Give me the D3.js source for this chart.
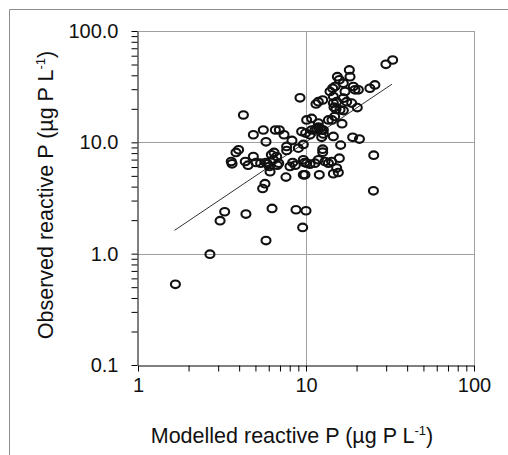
<!DOCTYPE html>
<html>
<head>
<meta charset="utf-8">
<script src="https://cdn.jsdelivr.net/npm/d3@7"></script>
<style>
  body { margin: 0; background: #fff; }
  svg { display: block; font-family: "Liberation Sans", Arial, sans-serif; }
</style>
</head>
<body>
<svg id="chart"></svg>
<script>
// modelled (x) vs observed (y) reactive P, µg P L-1
const modelled = [
  1.67, 2.68, 3.08, 3.28, 4.39, 5.78, 6.28, 8.72, 10.0, 9.55, 5.52, 5.70, 25.2, 25.3, 4.24, 9.21, 29.9, 32.8,
  3.59, 3.63, 3.83, 3.97, 4.35, 4.52, 4.86, 4.86, 5.04, 5.37, 5.57, 5.78, 5.78, 5.89, 6.05, 6.11, 6.22, 6.45,
  6.57, 6.94, 6.75, 6.88, 7.40, 7.67, 7.67, 7.60, 8.25, 8.03, 8.33, 8.64, 9.00, 9.64, 9.64, 9.82, 10.56, 9.95,
  9.42, 6.39, 6.69,
  10.09, 10.8, 10.56, 10.8, 11.3, 11.57, 11.84, 12.11, 12.4, 12.69, 11.84, 12.69, 12.4, 13.6, 14.28, 14.81,
  16.38, 14.55, 16.08, 18.96, 20.8, 12.57, 12.57, 9.64, 10.09, 11.3, 11.84, 12.98, 13.6, 14.2, 15.79, 15.22,
  14.55, 15.58, 12.0, 9.86,
  11.47, 11.84, 12.57, 13.9, 14.41, 14.55, 14.55, 15.22, 14.68, 15.09, 15.94, 16.68, 16.68, 17.07, 17.46, 18.7,
  20.2, 15.37, 15.79, 18.28, 18.11, 16.68, 19.13, 19.57, 20.5, 24.0, 25.7, 14.88
];
const observed = [
  0.53, 0.99, 1.98, 2.38, 2.27, 1.31, 2.55, 2.48, 2.43, 1.72, 3.85, 4.25, 3.67, 7.67, 17.6, 25.1, 50.2, 54.9,
  6.73, 6.41, 8.11, 8.57, 6.73, 6.24, 7.46, 11.7, 6.59, 6.50, 12.9, 10.1, 6.59, 6.41, 6.07, 5.44, 7.73, 8.11,
  12.9, 12.9, 6.24, 6.50, 11.7, 9.18, 8.45, 4.87, 10.4, 6.07, 6.59, 6.24, 8.87, 9.57, 5.11, 6.59, 6.37, 12.1,
  12.5, 6.97, 7.46,
  15.9, 16.4, 11.7, 12.9, 12.9, 13.4, 13.7, 13.4, 12.9, 12.9, 14.9, 11.9, 11.1, 15.9, 15.9, 17.06,
  14.7, 11.3, 9.44, 11.1, 10.7, 8.68, 8.16, 6.97, 6.50, 6.50, 6.97, 6.73, 6.50, 6.73, 7.21, 5.87,
  5.22, 5.36, 5.11, 5.11,
  22.1, 23.2, 24.0, 28.6, 30.6, 25.8, 22.5, 23.2, 20.7, 19.8, 19.6, 19.3, 24.9, 28.6, 23.2, 22.5,
  20.5, 38.9, 36.4, 38.9, 44.7, 33.9, 31.7, 29.6, 29.6, 30.6, 32.8, 31.7
];
const trendX = [1.65, 32.5];
const trendY = [1.62, 33.3];
const xTickLabels = ["1", "10", "100"];
const yTickLabels = ["0.1", "1.0", "10.0", "100.0"];

const width = 508, height = 455;
const plotLeft = 138, plotRight = 474, plotTop = 31, plotBottom = 365;

const svg = d3.select("#chart").attr("width", width).attr("height", height);

const x = d3.scaleLog().domain([1, 100]).range([plotLeft, plotRight]);
const y = d3.scaleLog().domain([0.1, 100]).range([plotBottom, plotTop]);

// outer frame (only top and left edges show)
svg.append("path")
  .attr("d", `M9.5,${height}V9.5H${width}`)
  .attr("fill", "none").attr("stroke", "#8c8c8c");

// grid + plot border
const grid = svg.append("g").attr("stroke", "#a0a0a0").attr("stroke-width", 1);
[10, 100].forEach(v => grid.append("line")
  .attr("x1", Math.round(x(v)) + 0.5).attr("x2", Math.round(x(v)) + 0.5)
  .attr("y1", plotTop).attr("y2", plotBottom));
[1, 10, 100].forEach(v => grid.append("line")
  .attr("x1", plotLeft).attr("x2", plotRight)
  .attr("y1", Math.round(y(v)) + 0.5).attr("y2", Math.round(y(v)) + 0.5));

// 1:1 trend line
const line = d3.line().x(d => x(d[0])).y(d => y(d[1]));
svg.append("path")
  .attr("d", line(d3.zip(trendX, trendY)))
  .attr("fill", "none").attr("stroke", "#333").attr("stroke-width", 1);

// points
svg.append("g").selectAll("ellipse")
  .data(d3.zip(modelled, observed))
  .join("ellipse")
  .attr("cx", d => x(d[0]))
  .attr("cy", d => y(d[1]))
  .attr("rx", 4.5).attr("ry", 3.8)
  .attr("fill", "none").attr("stroke", "#111").attr("stroke-width", 2.1);

// axes
const xAxis = svg.append("g")
  .attr("transform", `translate(0,${plotBottom + 0.5})`)
  .call(d3.axisBottom(x).tickValues(x.ticks()).tickSize(6).tickSizeOuter(0)
    .tickFormat(d => { const i = [1, 10, 100].indexOf(d); return i < 0 ? "" : xTickLabels[i]; }));
const yAxis = svg.append("g")
  .attr("transform", `translate(${plotLeft - 0.5},0)`)
  .call(d3.axisLeft(y).tickValues(y.ticks()).tickSize(6).tickSizeOuter(0)
    .tickFormat(d => { const i = [0.1, 1, 10, 100].findIndex(v => Math.abs(v - d) < 1e-9); return i < 0 ? "" : yTickLabels[i]; }));

[xAxis, yAxis].forEach(a => {
  a.selectAll(".domain").attr("stroke", "#000");
  a.selectAll(".tick line").attr("stroke", "#000");
  a.selectAll("text").attr("fill", "#111").style("font-size", "20px")
    .style("font-family", "'Liberation Sans', Arial, sans-serif");
});
xAxis.selectAll("text").attr("y", 12);
yAxis.selectAll("text").attr("x", -19);

// axis titles
const xt = svg.append("text")
  .attr("x", 292).attr("y", 443)
  .attr("text-anchor", "middle")
  .style("font-size", "21.5px").attr("fill", "#111");
xt.append("tspan").text("Modelled reactive P (µg P L");
xt.append("tspan").attr("dy", -8).style("font-size", "13px").text("-1");
xt.append("tspan").attr("dy", 8).text(")");

const yt = svg.append("text")
  .attr("transform", "translate(53,195) rotate(-90)")
  .attr("text-anchor", "middle")
  .style("font-size", "21.5px").attr("fill", "#111");
yt.append("tspan").text("Observed reactive P (µg P L");
yt.append("tspan").attr("dy", -8).style("font-size", "13px").text("-1");
yt.append("tspan").attr("dy", 8).text(")");
</script>
</body>
</html>
